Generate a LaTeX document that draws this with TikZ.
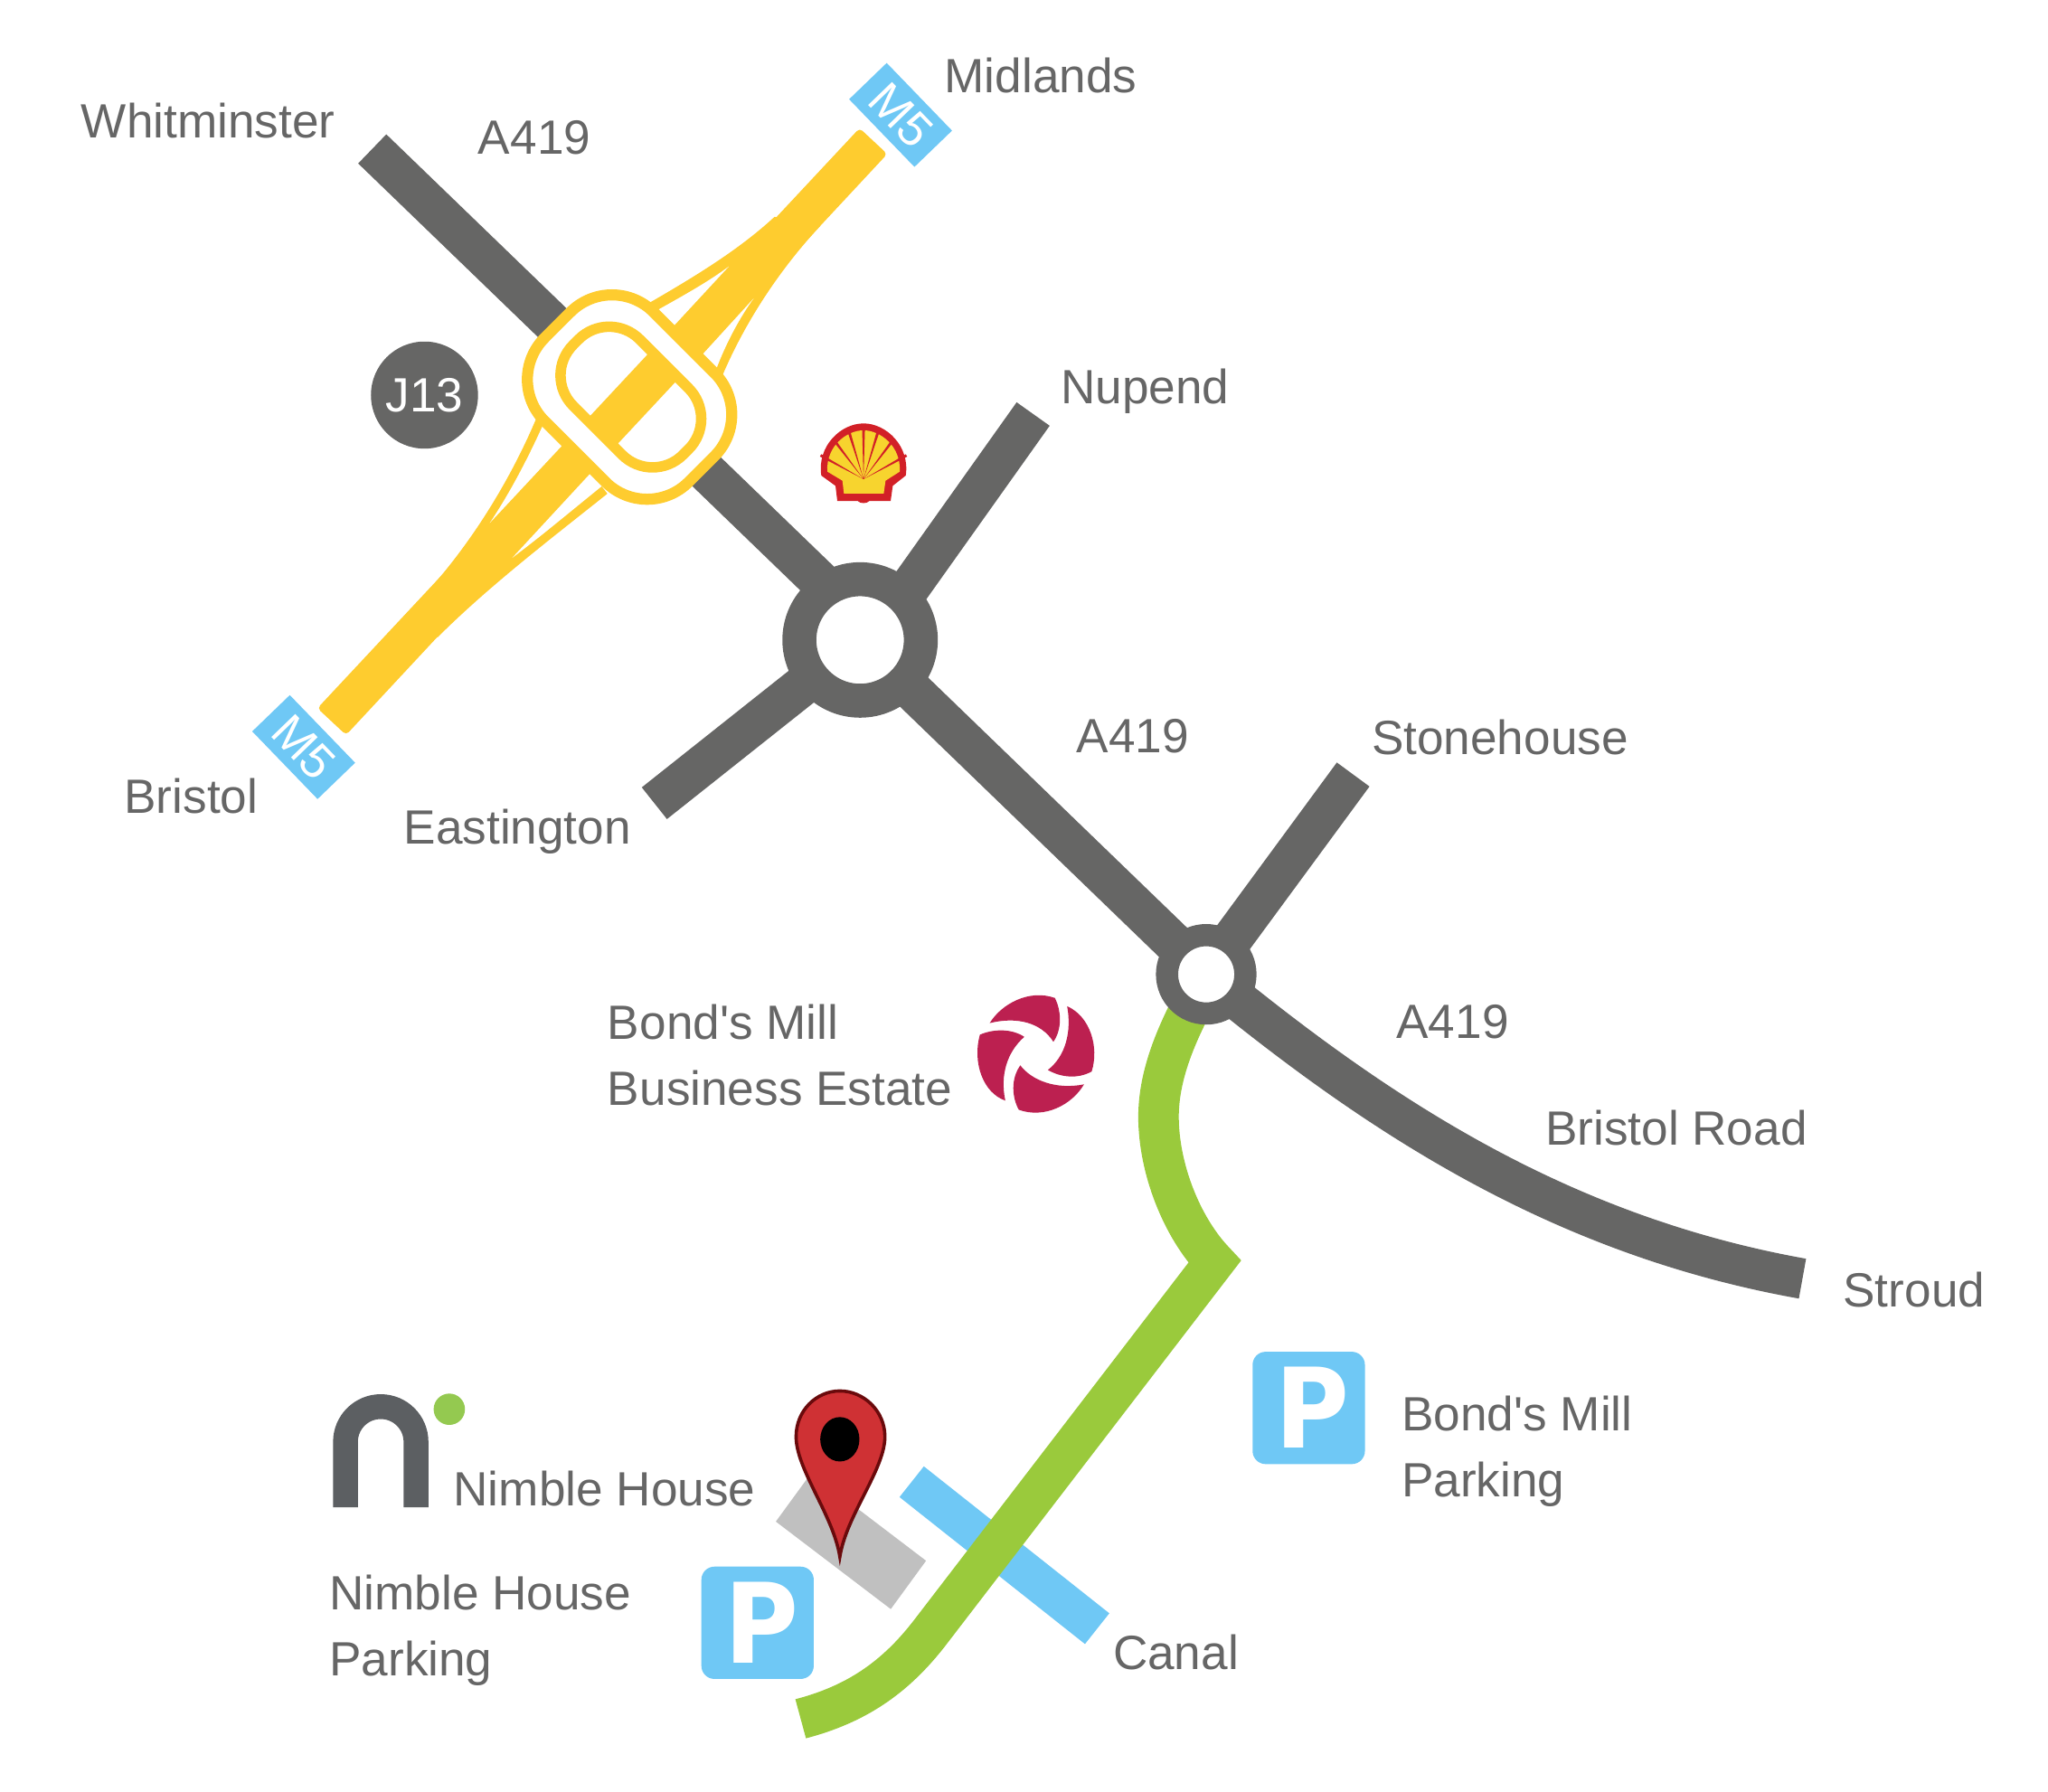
\documentclass[tikz,border=0pt]{standalone}
\usepackage{fontspec}
\setmainfont{Liberation Sans}
\newfontfamily\signfont{DejaVu Sans}
\usepackage{tikz}
\usetikzlibrary{calc}
\usetikzlibrary{backgrounds}
\definecolor{roadgray}{HTML}{666665}
\definecolor{textgray}{HTML}{666666}
\definecolor{motorway}{HTML}{FECC2F}
\definecolor{signblue}{HTML}{6FC8F5}
\definecolor{canalgreen}{HTML}{9ACA3C}
\definecolor{nimblegray}{HTML}{5C5F62}
\definecolor{nimblegreen}{HTML}{94C950}
\definecolor{buildinggray}{HTML}{C0C0C0}
\definecolor{pinred}{HTML}{CF3134}
\definecolor{pindark}{HTML}{6A0A0C}
\definecolor{shellred}{HTML}{D22027}
\definecolor{shellyellow}{HTML}{F7D42E}
\definecolor{millred}{HTML}{BC2050}
\tikzset{
    place/.style={anchor=base west, inner sep=0, text=textgray, align=left,
        font=\fontsize{36.8}{50.5}\selectfont},
    road/.style={draw=roadgray, line width=31pt},
    roundabout/.style={circle, draw=roadgray, fill=white, inner sep=0},
    junction/.style={draw=motorway, fill=white, inner sep=0, rotate=-45},
    mwsign/.style={fill=signblue, text=white, inner sep=0, minimum width=72pt,
        minimum height=40pt, rotate=-46, font=\fontsize{37}{37}\selectfont},
    parksign/.style={fill=signblue, text=white, inner sep=0, minimum size=86pt,
        rounded corners=10pt, font=\signfont\bfseries\fontsize{85}{85}\selectfont}
}
\begin{document}
\begin{tikzpicture}[x=1pt, y=-1pt]
        \useasboundingbox (0,0) rectangle (1568,1371.4);
        \coordinate (whitend) at (285,114);
        \coordinate (nupend) at (791,317);
        \coordinate (eastend) at (501,615);
        \coordinate (stoneend) at (1036,593);
        \coordinate (stroudend) at (1380,979);
        \coordinate (bristolend) at (254,552.5);
        \coordinate (midlandsend) at (668.7,108);
        \coordinate (canaltop) at (698,1134.5);
        \coordinate (canalend) at (840,1247);
        \coordinate (towpathtop) at (915,765);
        \coordinate (towpathbend) at (930,966);
        \coordinate (towpathend) at (613,1316);
        \node[roundabout, line width=26pt, minimum size=93pt] (rbwest) at (658.5,490) {};
        \node[roundabout, line width=17pt, minimum size=60pt] (rbeast) at (923.5,746) {};
        \node[junction, line width=8.5pt, minimum width=156pt, minimum height=118pt,
            rounded corners=45pt] (jouter) at (482,304) {};
        \node[junction, line width=8pt, minimum width=119pt, minimum height=72pt,
            rounded corners=33pt, path picture={
                \draw[motorway, line width=30pt] (bristolend) -- (midlandsend);
            }] (jinner) at (483,304) {};
        \node[circle, fill=roadgray, text=white, inner sep=0, minimum size=82pt,
            font=\fontsize{36.8}{36.8}\selectfont] (j13) at (325,302.5) {J13};
        \node[mwsign] (m5north) at (689.5,88) {M5};
        \node[mwsign] (m5south) at (232.5,572) {M5};
        \node[parksign] (parkmill) at (1002,1078) {\kern6pt\scalebox{.91}[1]{P}};
        \node[parksign] (parknimble) at (580,1242.5) {\kern6pt\scalebox{.91}[1]{P}};
        \node[place] (whitlabel) at (62,105.5) {Whitminster};
        \node[place] (aone) at (366,118) {A419};
        \node[place] (midlabel) at (723,71) {Midlands};
        \node[place] (nuplabel) at (812,309) {Nupend};
        \node[place] (brislabel) at (95,623) {Bristol};
        \node[place] (eastlabel) at (309,646) {Eastington};
        \node[place] (atwo) at (824,576) {A419};
        \node[place] (stonelabel) at (1050,578) {Stonehouse};
        \node[place] (millabel) at (465,846) {Bond\textquotesingle s Mill\\Business Estate};
        \node[place] (athree) at (1069,795) {A419};
        \node[place] (roadlabel) at (1183,877) {Bristol Road};
        \node[place] (stroudlabel) at (1411,1001) {Stroud};
        \node[place] (parkmillabel) at (1073,1146) {Bond\textquotesingle s Mill\\Parking};
        \node[place] (nimlabel) at (347,1153) {Nimble House};
        \node[place] (parknimlabel) at (252,1283) {Nimble House\\Parking};
        \node[place] (canalabel) at (852,1278) {Canal};
        \begin{scope}[on background layer]
            \draw[signblue, line width=30pt]
                (canaltop) -- (canalend);
            \draw[canalgreen, line width=31pt]
                (towpathtop) .. controls (899,795) and (887,825) .. (887,855)
                .. controls (887,895) and (905,940) .. (towpathbend)
                -- (712,1250) .. controls (685,1285) and (655,1305) .. (towpathend);
            \draw[road]
                (whitend) -- (664,480)
                (rbwest.center) -- (rbeast.center)
                (nupend) -- (668,490)
                (eastend) -- (rbwest.center)
                (stoneend) -- (rbeast.center);
            \draw[road]
                (rbeast.center) .. controls (1050,850) and (1190,945) .. (stroudend);
            \fill[motorway, rounded corners=3pt]
                ($(bristolend)!15pt!90:(midlandsend)$)
                -- ($(bristolend)!15pt!-90:(midlandsend)$)
                -- ($(midlandsend)!14.5pt!90:(bristolend)$)
                -- ($(midlandsend)!14.5pt!-90:(bristolend)$)
                -- cycle;
            \fill[motorway]
                (490,236) .. controls (530,213) and (565,192) .. (593,166)
                -- (628,173) .. controls (600,203) and (570,245) .. (550,295) -- cycle;
            \fill[motorway]
                (414,312) .. controls (395,360) and (360,422) .. (310,471)
                -- (335,488) .. controls (375,448) and (425,410) .. (465,378) -- cycle;
            \fill[white]
                (497,241) .. controls (522,227) and (542,216) .. (558,204)
                -- (508,258) -- cycle;
            \fill[white]
                (577,228.5) .. controls (565,245) and (553,268) .. (545,292)
                -- (530,280) -- cycle;
            \fill[white]
                (419,318) .. controls (405,350) and (390,378) .. (375,400.4)
                -- (437,334) -- cycle;
            \fill[white]
                (392.3,427) -- (458,356) -- (466,368)
                .. controls (435,393) and (415,410) .. (392.3,427) -- cycle;
        \end{scope}
        \begin{scope}[shift={(609.2,311.5)}, scale=0.2308]
            \fill[shellred]
                (85,228) .. controls (70,130) and (150,55) .. (225,55)
                .. controls (300,55) and (380,130) .. (365,228)
                -- (322,262) -- (315,312) -- (245,312)
                .. controls (235,322) and (215,322) .. (205,312)
                -- (138,312) -- (132,262) -- cycle;
            \fill[shellyellow]
                (105,215) .. controls (100,130) and (170,78) .. (225,78)
                .. controls (280,78) and (350,130) .. (345,215)
                -- (298,245) -- (292,288) -- (160,288) -- (155,245) -- cycle;
            \fill[shellred]
                (225,240) -- +(-27.4:163) -- +(-30.6:163) -- cycle
                (225,240) -- +(-51.4:163) -- +(-54.6:163) -- cycle
                (225,240) -- +(-71.4:163) -- +(-74.6:163) -- cycle
                (225,240) -- +(-88.4:163) -- +(-91.6:163) -- cycle
                (225,240) -- +(-105.4:163) -- +(-108.6:163) -- cycle
                (225,240) -- +(-125.4:163) -- +(-128.6:163) -- cycle
                (225,240) -- +(-149.4:163) -- +(-152.6:163) -- cycle;
        \end{scope}
        \begin{scope}[shift={(733.8,747.7)}, scale=0.2345]
            \fill[millred]
                (102,152) .. controls (140,90) and (230,40) .. (315,70)
                .. controls (335,110) and (340,170) .. (310,213)
                .. controls (270,150) and (190,130) .. (102,152) -- cycle;
            \fill[millred]
                (355,97) .. controls (430,130) and (460,230) .. (435,310)
                .. controls (390,335) and (335,330) .. (292,305)
                .. controls (350,260) and (370,180) .. (355,97) -- cycle;
            \fill[millred]
                (410,352) .. controls (370,420) and (280,465) .. (197,435)
                .. controls (175,395) and (170,335) .. (202,290)
                .. controls (240,340) and (320,370) .. (410,352) -- cycle;
            \fill[millred]
                (153,405) .. controls (80,380) and (45,280) .. (70,190)
                .. controls (115,170) and (175,170) .. (215,197)
                .. controls (160,245) and (135,320) .. (153,405) -- cycle;
        \end{scope}
        \draw[nimblegray, line width=19pt]
            (264.5,1154) -- (264.5,1104) arc (180:360:27) -- (318.5,1154);
        \fill[nimblegreen] (344,1079) circle (12);
        \fill[buildinggray]
            (594,1165) -- (682,1232) -- (709,1195) -- (621,1128) -- cycle;
        \filldraw[fill=pinred, draw=pindark, line width=2.5pt]
            (643,1192) .. controls (638,1160) and (609.5,1125) .. (609.5,1100)
            .. controls (609.5,1080) and (625,1065) .. (643,1065)
            .. controls (661,1065) and (677.5,1080) .. (677.5,1100)
            .. controls (677.5,1125) and (648,1160) .. (643,1192) -- cycle;
        \fill[black] (643,1102) ellipse (15 and 17);
    \end{tikzpicture}
\end{document}
